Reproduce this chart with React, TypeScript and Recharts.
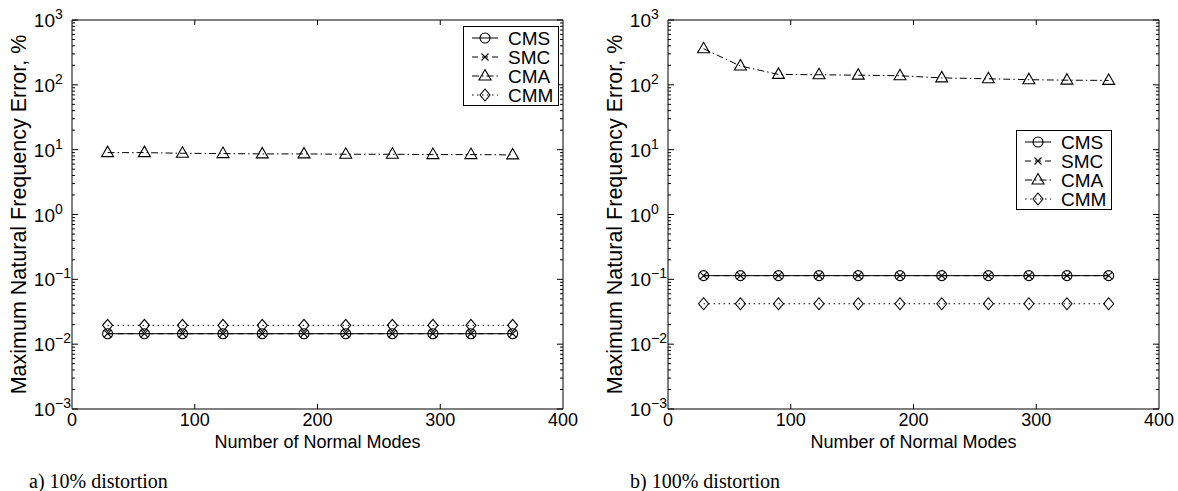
import React from 'react';
import { LineChart, Line, XAxis, YAxis, Legend } from 'recharts';

// number of normal modes used (same for both panels)
const modes = [29, 59, 90, 123, 155, 189, 223, 261, 294, 325, 359];

// a) 10% distortion
const cms10 = [0.0145, 0.0145, 0.0145, 0.0145, 0.0145, 0.0145, 0.0145, 0.0145, 0.0145, 0.0145, 0.0145];
const smc10 = [0.0145, 0.0145, 0.0145, 0.0145, 0.0145, 0.0145, 0.0145, 0.0145, 0.0145, 0.0145, 0.0145];
const cma10 = [9.0, 9.0, 8.8, 8.7, 8.6, 8.6, 8.5, 8.5, 8.4, 8.4, 8.3];
const cmm10 = [0.0195, 0.0195, 0.0195, 0.0195, 0.0195, 0.0195, 0.0195, 0.0195, 0.0195, 0.0195, 0.0195];

// b) 100% distortion
const cms100 = [0.114, 0.114, 0.114, 0.114, 0.114, 0.114, 0.114, 0.114, 0.114, 0.114, 0.114];
const smc100 = [0.114, 0.114, 0.114, 0.114, 0.114, 0.114, 0.114, 0.114, 0.114, 0.114, 0.114];
const cma100 = [360, 195, 145, 143, 141, 138, 128, 124, 120, 118, 117];
const cmm100 = [0.042, 0.042, 0.042, 0.042, 0.042, 0.042, 0.042, 0.042, 0.042, 0.042, 0.042];

const seriesNames = ['CMS', 'SMC', 'CMA', 'CMM'];
const xTicks = [0, 100, 200, 300, 400];
const yMajor = [0.001, 0.01, 0.1, 1, 10, 100, 1000];
const yExponents = ['\u22123', '\u22122', '\u22121', '0', '1', '2', '3'];
const minorSteps = [2, 3, 4, 5, 6, 7, 8, 9];
const yMinor = yMajor.slice(0, -1).flatMap((d) => minorSteps.map((m) => +(d * m).toPrecision(3)));
const yTicks = [...yMajor, ...yMinor];

const SANS = '"Liberation Sans", Arial, Helvetica, sans-serif';
const SERIF = '"Liberation Serif", "Times New Roman", serif';
const FS = 19;
const Y_TM = 17; // gap between the "10" of y tick labels and the axis
const X_TM = 4;

const dashes: Record<string, string | undefined> = {
    CMS: undefined,
    SMC: '6 4',
    CMA: '7 3 1.5 3',
    CMM: '1.5 3.5',
};

const Marker = ({ kind, cx, cy }: { kind: string; cx: number; cy: number }) => {
    const s = { fill: 'none', stroke: '#000', strokeWidth: 1.1 };
    if (kind === 'CMS') return <circle cx={cx} cy={cy} r={5} {...s} />;
    if (kind === 'SMC')
        return <path d={`M${cx - 3.5},${cy - 3.5}L${cx + 3.5},${cy + 3.5}M${cx - 3.5},${cy + 3.5}L${cx + 3.5},${cy - 3.5}`} {...s} />;
    if (kind === 'CMA')
        return <polygon points={`${cx},${cy - 6.5} ${cx + 6},${cy + 4} ${cx - 6},${cy + 4}`} {...s} />;
    return <polygon points={`${cx},${cy - 6} ${cx + 5},${cy} ${cx},${cy + 6} ${cx - 5},${cy}`} {...s} />;
};

const LeftTick = (props: any) => {
    const { x, y, payload } = props;
    const ax = x + Y_TM;
    const idx = yMajor.indexOf(payload.value);
    if (idx < 0) return <line x1={ax} x2={ax + 3} y1={y} y2={y} stroke="#000" />;
    return (
        <g>
            <line x1={ax} x2={ax + 6} y1={y} y2={y} stroke="#000" />
            <text x={x} y={y + 7} textAnchor="end" fontFamily={SANS} fontSize={FS} fill="#000">10</text>
            <text x={x} y={y - 1} textAnchor="start" fontFamily={SANS} fontSize={14} fill="#000">
                {yExponents[idx]}
            </text>
        </g>
    );
};

const RightTick = (props: any) => {
    const { x, y, payload } = props;
    const len = yMajor.indexOf(payload.value) < 0 ? 3 : 6;
    return <line x1={x} x2={x - len} y1={y} y2={y} stroke="#000" />;
};

const BottomTick = (props: any) => {
    const { x, y, payload } = props;
    const ay = y - X_TM;
    return (
        <g>
            {payload.value > 0 && payload.value < 400 && <line x1={x} x2={x} y1={ay} y2={ay - 5} stroke="#000" />}
            <text x={x} y={y} dy="0.72em" textAnchor="middle" fontFamily={SANS} fontSize={18} fill="#000">
                {payload.value}
            </text>
        </g>
    );
};

const TopTick = (props: any) => {
    const { x, y, payload } = props;
    if (payload.value <= 0 || payload.value >= 400) return <g />;
    return <line x1={x} x2={x} y1={y} y2={y + 5} stroke="#000" />;
};

const YLabel = (props: any) => {
    const { viewBox } = props;
    const cx = viewBox.x - 3;
    const cy = viewBox.y + viewBox.height / 2;
    return (
        <text x={cx} y={cy} transform={`rotate(-90 ${cx} ${cy})`} textAnchor="middle" dominantBaseline="central"
            fontFamily={SANS} fontSize={21.5} fill="#000">
            Maximum Natural Frequency Error, %
        </text>
    );
};

const XLabel = (props: any) => {
    const { viewBox } = props;
    return (
        <text x={viewBox.x + viewBox.width / 2} y={viewBox.y + 39} textAnchor="middle" fontFamily={SANS} fontSize={18} fill="#000">
            Number of Normal Modes
        </text>
    );
};

const LegendBox = () => (
    <svg width={96} height={80} style={{ display: 'block' }}>
        <rect x={0.5} y={0.5} width={95} height={79} fill="#fff" stroke="#000" />
        {seriesNames.map((name, i) => {
            const y = 12 + i * 19;
            return (
                <g key={name}>
                    <line x1={9} x2={35} y1={y} y2={y} stroke="#000" strokeDasharray={dashes[name]} />
                    <Marker kind={name} cx={22} cy={y} />
                    <text x={45} y={y + 7} fontFamily={SANS} fontSize={FS} fill="#000">{name}</text>
                </g>
            );
        })}
    </svg>
);

interface PanelProps {
    cms: number[];
    smc: number[];
    cma: number[];
    cmm: number[];
    legendLeft: number;
    legendTop: number;
}

const Panel = ({ cms, smc, cma, cmm, legendLeft, legendTop }: PanelProps) => {
    const data = modes.map((n, i) => ({ n, CMS: cms[i], SMC: smc[i], CMA: cma[i], CMM: cmm[i] }));
    return (
        <LineChart width={580} height={491} data={data} margin={{ top: 19, right: 15, bottom: 32, left: 22 }}>
            <XAxis xAxisId="b" dataKey="n" type="number" domain={[0, 400]} ticks={xTicks} interval={0}
                tickSize={0} tickMargin={X_TM} tick={<BottomTick />} height={50}
                axisLine={{ stroke: '#000' }} label={<XLabel />} />
            <XAxis xAxisId="t" orientation="top" dataKey="n" type="number" domain={[0, 400]} ticks={xTicks}
                interval={0} tickSize={0} tickMargin={0} tick={<TopTick />} height={1} axisLine={{ stroke: '#000' }} />
            <YAxis yAxisId="l" scale="log" type="number" domain={[0.001, 1000]} ticks={yTicks} interval={0}
                allowDataOverflow tickSize={0} tickMargin={Y_TM} tick={<LeftTick />} width={50}
                axisLine={{ stroke: '#000' }} label={<YLabel />} />
            <YAxis yAxisId="r" orientation="right" scale="log" type="number" domain={[0.001, 1000]} ticks={yTicks}
                interval={0} allowDataOverflow tickSize={0} tickMargin={0} tick={<RightTick />} width={2}
                axisLine={{ stroke: '#000' }} />
            <Legend verticalAlign="middle" align="center" layout="horizontal" content={<LegendBox />}
                wrapperStyle={{ position: 'absolute', left: legendLeft, top: legendTop, width: 96, height: 80 }} />
            {seriesNames.map((name) => (
                <Line key={name} xAxisId="b" yAxisId="l" dataKey={name} stroke="#000" strokeWidth={1}
                    strokeDasharray={dashes[name]} isAnimationActive={false} legendType="none"
                    dot={(p: any) => <Marker key={`${name}-${p.index}`} kind={name} cx={p.cx} cy={p.cy} />}
                    activeDot={false} />
            ))}
        </LineChart>
    );
};

export default function App() {
    return (
        <div style={{ position: 'absolute', left: 0, top: 0, width: 1178, height: 491, background: '#fff', overflow: 'hidden' }}>
            <div style={{ position: 'absolute', left: 0, top: 0 }}>
                <Panel cms={cms10} smc={smc10} cma={cma10} cmm={cmm10} legendLeft={463} legendTop={26} />
            </div>
            <div style={{ position: 'absolute', left: 596, top: 0 }}>
                <Panel cms={cms100} smc={smc100} cma={cma100} cmm={cmm100} legendLeft={420} legendTop={130} />
            </div>
            <div style={{ position: 'absolute', left: 29, top: 471, fontFamily: SERIF, fontSize: 20, lineHeight: '20px' }}>
                a) 10% distortion
            </div>
            <div style={{ position: 'absolute', left: 630, top: 471, fontFamily: SERIF, fontSize: 20, lineHeight: '20px' }}>
                b) 100% distortion
            </div>
        </div>
    );
}
